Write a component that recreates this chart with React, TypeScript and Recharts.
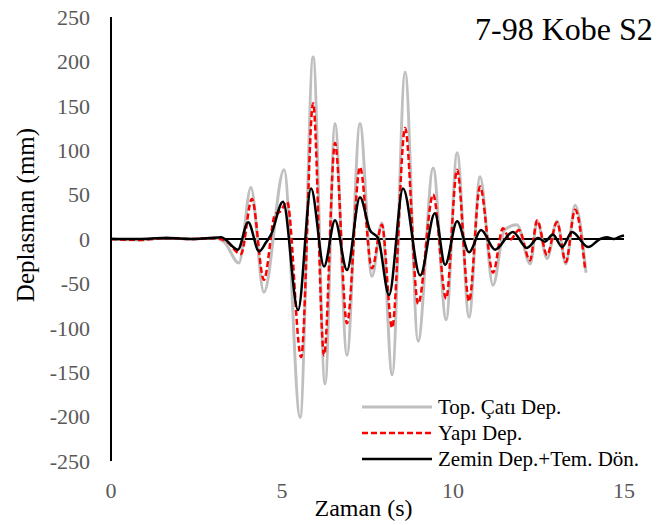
import React from 'react';
import { LineChart, Line, XAxis, YAxis, ReferenceLine } from 'recharts';

// Top. Çatı Dep. (gray)
const roofTime = [0, 0.8, 1.6, 2.4, 3.0, 3.3, 3.74, 4.09, 4.47, 5.06, 5.53, 5.91, 6.26, 6.55, 6.9, 7.28, 7.63, 7.92, 8.22, 8.6, 8.98, 9.42, 9.8, 10.12, 10.47, 10.79, 11.17, 11.5, 11.87, 12.26, 12.46, 12.75, 13.04, 13.3, 13.57, 13.89];
const roofDisp = [0, -1, 1, 0, 1, -3, -27, 58, -60, 78, -201, 205, -163, 130, -131, 130, -42, 18, -153, 188, -115, 80, -91, 97, -88, 70, -52, 10, 16, -28, 20, -22, 20, -28, 38, -38];

// Yapı Dep. (red dashed)
const structTime = [0, 0.8, 1.6, 2.4, 3.0, 3.35, 3.8, 4.12, 4.47, 4.8, 4.95, 5.15, 5.56, 5.91, 6.23, 6.55, 6.9, 7.28, 7.63, 7.92, 8.22, 8.6, 8.98, 9.42, 9.8, 10.12, 10.47, 10.79, 11.17, 11.46, 11.67, 11.93, 12.25, 12.46, 12.75, 13.04, 13.3, 13.57, 13.86];
const structDisp = [0, -1, 1, 0, 1, -2, -17, 45, -46, 28, 31, 42, -133, 153, -131, 108, -95, 81, -33, 16, -100, 125, -73, 50, -67, 78, -70, 59, -38, 12, -1, 10, -24, 21, -18, 19, -26, 33, -33];

// Zemin Dep.+Tem. Dön. (black)
const soilTime = [0, 0.8, 1.6, 2.4, 2.9, 3.22, 3.71, 4.01, 4.33, 4.53, 4.68, 5.03, 5.47, 5.85, 6.23, 6.55, 6.9, 7.28, 7.57, 7.81, 8.13, 8.54, 9.04, 9.47, 9.77, 10.12, 10.47, 10.82, 11.23, 11.75, 12.16, 12.49, 12.69, 12.92, 13.19, 13.48, 13.95, 14.3, 14.5, 14.7, 14.9, 15];
const soilDisp = [0, 0, 1, 0, 1, 2, -12, 19, -14, -4, 5, 42, -80, 57, -31, 21, -35, 47, 10, 1, -63, 57, -41, 29, -29, 20, -15, 10, -12, 8, -10, 1, -3, 5, -9, 8, -9, 0, 2, 0, 3, 4];

const yTicks = [-250, -200, -150, -100, -50, 0, 50, 100, 150, 200, 250];
const xTicks = [0, 5, 10, 15];

const toPoints = (ts: number[], vs: number[]) => ts.map((t, i) => ({ t, v: vs[i] }));

const roofData = toPoints(roofTime, roofDisp);
const structData = toPoints(structTime, structDisp);
const soilData = toPoints(soilTime, soilDisp);

const FONT = '"Liberation Serif", "Times New Roman", serif';

const legendItems = [
  { name: 'Top. Çatı Dep.', color: '#bfbfbf', width: 3, dash: undefined },
  { name: 'Yapı Dep.', color: '#ff0000', width: 2.5, dash: '6 3' },
  { name: 'Zemin Dep.+Tem. Dön.', color: '#000000', width: 2.5, dash: undefined },
];

const App: React.FC = () => (
  <div style={{ position: 'absolute', left: 0, top: 0, width: 667, height: 525, background: '#fff' }}>
    <LineChart width={667} height={525} margin={{ top: 17, right: 43, left: 0, bottom: 0 }}>
      <XAxis
        type="number"
        dataKey="t"
        domain={[0, 15]}
        ticks={xTicks}
        axisLine={false}
        tickLine={false}
        tickSize={0}
        tickMargin={21}
        height={64}
        tick={{ fill: '#595959', fontSize: 22, fontFamily: FONT }}
        label={{
          content: ({ viewBox }: any) => (
            <text x={viewBox.x + viewBox.width / 2 - 4} y={516} textAnchor="middle" fontSize={24} fontFamily={FONT} fill="#000">
              Zaman (s)
            </text>
          ),
        }}
      />
      <YAxis
        type="number"
        domain={[-250, 250]}
        ticks={yTicks}
        width={111}
        axisLine={{ stroke: '#000', strokeWidth: 2 }}
        tickLine={false}
        tickSize={0}
        tickMargin={21}
        tick={{ fill: '#595959', fontSize: 22, fontFamily: FONT }}
        label={{
          content: ({ viewBox }: any) => {
            const cy = viewBox.y + viewBox.height / 2 - 24;
            return (
              <text x={28} y={cy} transform={`rotate(-90 28 ${cy})`} textAnchor="middle" dominantBaseline="middle" fontSize={25} fontFamily={FONT} fill="#000">
                Deplasman (mm)
              </text>
            );
          },
        }}
      />
      <ReferenceLine y={0} stroke="#000" strokeWidth={2} />
      <Line data={roofData} dataKey="v" name="Top. Çatı Dep." type="monotone" stroke="#bfbfbf" strokeWidth={3} dot={false} isAnimationActive={false} />
      <Line data={structData} dataKey="v" name="Yapı Dep." type="monotone" stroke="#ff0000" strokeWidth={2.5} strokeDasharray="6 3" dot={false} isAnimationActive={false} />
      <Line data={soilData} dataKey="v" name="Zemin Dep.+Tem. Dön." type="monotone" stroke="#000" strokeWidth={2.5} dot={false} isAnimationActive={false} />
    </LineChart>
    <div style={{ position: 'absolute', left: 475, top: 11, fontFamily: FONT, fontSize: 32, color: '#000', whiteSpace: 'nowrap' }}>
      7-98 Kobe S2
    </div>
    <div style={{ position: 'absolute', left: 362, top: 394, fontFamily: FONT, fontSize: 21, color: '#000', whiteSpace: 'nowrap' }}>
      {legendItems.map((it) => (
        <div key={it.name} style={{ display: 'flex', alignItems: 'center', height: 26 }}>
          <svg width={70} height={10} style={{ marginRight: 6 }}>
            <line x1={0} y1={5} x2={70} y2={5} stroke={it.color} strokeWidth={it.width} strokeDasharray={it.dash} />
          </svg>
          <span>{it.name}</span>
        </div>
      ))}
    </div>
  </div>
);

export default App;
